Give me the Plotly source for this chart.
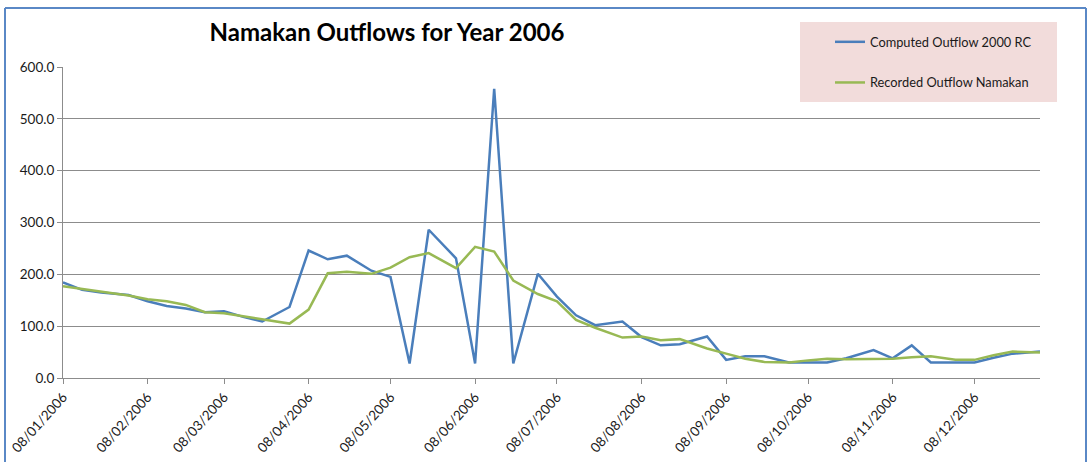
import plotly.graph_objects as go

# Sample dates: the 1st, 8th, 15th and 22nd of each month
dates = [
    "2006-01-08", "2006-01-15", "2006-01-22",
    "2006-02-01", "2006-02-08", "2006-02-15", "2006-02-22",
    "2006-03-01", "2006-03-08", "2006-03-15", "2006-03-22",
    "2006-04-01", "2006-04-08", "2006-04-15", "2006-04-22",
    "2006-05-01", "2006-05-08", "2006-05-15", "2006-05-22",
    "2006-06-01", "2006-06-08", "2006-06-15", "2006-06-22",
    "2006-07-01", "2006-07-08", "2006-07-15", "2006-07-22",
    "2006-08-01", "2006-08-08", "2006-08-15", "2006-08-22",
    "2006-09-01", "2006-09-08", "2006-09-15", "2006-09-22",
    "2006-10-01", "2006-10-08", "2006-10-15", "2006-10-22",
    "2006-11-01", "2006-11-08", "2006-11-15", "2006-11-22",
    "2006-12-01", "2006-12-08", "2006-12-15", "2006-12-22",
    "2007-01-01",
]

computed_outflow = [
    184.5, 170, 165, 160, 148, 139, 134, 127, 129, 118, 109,
    137, 246, 229, 236, 207, 195, 28, 286, 231, 28, 558, 28,
    201, 157, 121, 102, 109, 79, 63, 65, 80, 35, 42, 42,
    30, 30, 30, 38, 54, 38, 63, 30, 30, 30, 39, 47, 51,
]

recorded_outflow = [
    177, 172, 167, 159, 152, 148, 141, 127, 125, 119, 113,
    105, 132, 202, 205, 201, 213, 233, 241, 212, 253, 244, 188,
    162, 148, 112, 97, 78, 80, 73, 75, 57, 47, 37, 31,
    30, 34, 37, 36, 36, 37, 40, 42, 35, 35, 44, 51, 49,
]

tick_dates = [
    "2006-01-08", "2006-02-08", "2006-03-08", "2006-04-08",
    "2006-05-08", "2006-06-08", "2006-07-08", "2006-08-08",
    "2006-09-08", "2006-10-08", "2006-11-08", "2006-12-08",
]
tick_labels = [
    "08/01/2006", "08/02/2006", "08/03/2006", "08/04/2006",
    "08/05/2006", "08/06/2006", "08/07/2006", "08/08/2006",
    "08/09/2006", "08/10/2006", "08/11/2006", "08/12/2006",
]

y_ticks = [0, 100, 200, 300, 400, 500, 600]

BLUE = "#4a7ebb"
GREEN = "#98b954"
GRID = "#8c8c8c"
FONT = "Lato, 'Open Sans', sans-serif"

W, H = 1091, 462
L, R, T, B = 63, 51, 67, 84
PW, PH = W - L - R, H - T - B


def px(x):
    return (x - L) / PW


def py(y):
    return (H - B - y) / PH


fig = go.Figure()
fig.add_trace(go.Scatter(
    x=dates, y=computed_outflow, mode="lines",
    name="Computed Outflow 2000 RC",
    line=dict(color=BLUE, width=2.5),
    legendgroup="a",
))
fig.add_trace(go.Scatter(
    x=dates, y=recorded_outflow, mode="lines",
    name="Recorded Outflow Namakan",
    line=dict(color=GREEN, width=2.5),
    legendgroup="b",
))

shapes = [
    # legend panel
    dict(type="rect", xref="paper", yref="paper",
         x0=px(800), x1=px(1057), y0=py(102), y1=py(22),
         fillcolor="#f2dcdb", line=dict(width=0), layer="below"),
    # chart frame
    dict(type="line", xref="paper", yref="paper",
         x0=px(5), x1=px(5), y0=py(470), y1=py(8),
         line=dict(color="#5a88c6", width=2)),
    dict(type="line", xref="paper", yref="paper",
         x0=px(5), x1=px(1086), y0=py(8), y1=py(8),
         line=dict(color="#5a88c6", width=2)),
    dict(type="line", xref="paper", yref="paper",
         x0=px(1086), x1=px(1086), y0=py(8), y1=py(470),
         line=dict(color="#5a88c6", width=2)),
]

fig.update_layout(
    width=W, height=H,
    margin=dict(l=L, r=R, t=T, b=B, autoexpand=False),
    paper_bgcolor="white",
    plot_bgcolor="white",
    font=dict(family=FONT, size=12, color="#1a1a1a"),
    title=dict(
        text="<b>Namakan Outflows for Year 2006</b>",
        x=387 / W, xanchor="center", xref="container",
        y=1 - 33 / H, yanchor="middle", yref="container",
        font=dict(family=FONT, size=24, color="#000000"),
    ),
    showlegend=True,
    legend=dict(
        x=px(830), y=py(27), xanchor="left", yanchor="top",
        bgcolor="rgba(0,0,0,0)", borderwidth=0,
        tracegroupgap=21, itemwidth=30,
        font=dict(family=FONT, size=12.8, color="#1a1a1a"),
    ),
    shapes=shapes,
)

fig.update_xaxes(
    type="date",
    range=["2006-01-08", "2007-01-01"],
    tickvals=tick_dates, ticktext=tick_labels,
    tickangle=-48,
    ticks="outside", ticklen=5, tickcolor=GRID,
    showline=True, linecolor=GRID, linewidth=1,
    showgrid=False, zeroline=False, automargin=False,
    tickfont=dict(size=13.5, color="#1a1a1a"),
)
fig.update_yaxes(
    range=[0, 600],
    tickvals=y_ticks, tickformat=".1f",
    ticks="outside", ticklen=5, tickcolor=GRID,
    showline=True, linecolor=GRID, linewidth=1,
    showgrid=True, gridcolor=GRID, gridwidth=1,
    zeroline=False, automargin=False,
    tickfont=dict(size=13.5, color="#1a1a1a"),
)

fig.write_html("out.html")
